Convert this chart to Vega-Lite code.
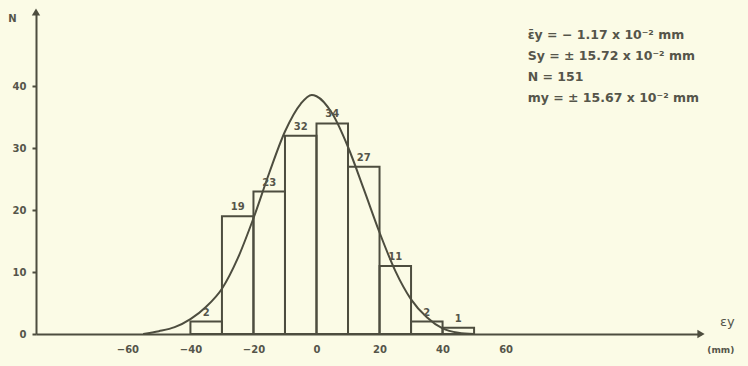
{
  "$schema": "https://vega.github.io/schema/vega-lite/v6.json",
  "width": 665,
  "height": 322,
  "autosize": "none",
  "padding": {"left": 36, "top": 12, "right": 47, "bottom": 32},
  "background": "#fbfbe6",
  "config": {
    "view": {"stroke": null},
    "font": "DejaVu Sans",
    "axis": {
      "domainColor": "#4d4d3f",
      "domainWidth": 2,
      "tickColor": "#4d4d3f",
      "tickWidth": 2,
      "labelColor": "#55554a",
      "labelFont": "DejaVu Sans",
      "labelFontSize": 10,
      "labelFontWeight": "bold",
      "grid": false
    }
  },
  "datasets": {
    "bins": [
      {"start": -40, "end": -30, "mid": -35, "n": 2},
      {"start": -30, "end": -20, "mid": -25, "n": 19},
      {"start": -20, "end": -10, "mid": -15, "n": 23},
      {"start": -10, "end": 0, "mid": -5, "n": 32},
      {"start": 0, "end": 10, "mid": 5, "n": 34},
      {"start": 10, "end": 20, "mid": 15, "n": 27},
      {"start": 20, "end": 30, "mid": 25, "n": 11},
      {"start": 30, "end": 40, "mid": 35, "n": 2},
      {"start": 40, "end": 50, "mid": 45, "n": 1}
    ],
    "curve": [
      {"e": -55, "n": 0.0},
      {"e": -50, "n": 0.45},
      {"e": -45, "n": 1.1},
      {"e": -40, "n": 2.4},
      {"e": -35, "n": 4.4},
      {"e": -30, "n": 7.3},
      {"e": -25, "n": 12.2},
      {"e": -20, "n": 18.69},
      {"e": -15, "n": 26.0},
      {"e": -10, "n": 32.7},
      {"e": -5, "n": 37.18},
      {"e": -1.5, "n": 38.6},
      {"e": 0, "n": 38.4},
      {"e": 5, "n": 35.6},
      {"e": 10, "n": 30.2},
      {"e": 15, "n": 23.4},
      {"e": 20, "n": 16.4},
      {"e": 25, "n": 10.2},
      {"e": 30, "n": 5.6},
      {"e": 35, "n": 2.7},
      {"e": 40, "n": 0.9},
      {"e": 45, "n": 0.2},
      {"e": 50, "n": 0.0}
    ]
  },
  "layer": [
    {
      "data": {"name": "bins"},
      "mark": {"type": "rect", "fill": null, "stroke": "#4d4d3f", "strokeWidth": 2},
      "encoding": {
        "x": {
          "field": "start",
          "type": "quantitative",
          "scale": {"domain": [-89, 122], "nice": false, "zero": false},
          "axis": {
            "values": [-60, -40, -20, 0, 20, 40, 60],
            "ticks": false,
            "labelPadding": 10,
            "title": null
          }
        },
        "x2": {"field": "end"},
        "y": {
          "field": "n",
          "type": "quantitative",
          "scale": {"domain": [0, 52], "nice": false},
          "axis": {
            "values": [0, 10, 20, 30, 40],
            "tickSize": 4,
            "labelPadding": 6,
            "title": "N",
            "titleAngle": 0,
            "titleX": -24,
            "titleY": 11,
            "titleFontSize": 10,
            "titleFontWeight": "bold",
            "titleColor": "#55554a"
          }
        },
        "y2": {"datum": 0}
      }
    },
    {
      "data": {"name": "curve"},
      "mark": {"type": "line", "interpolate": "monotone", "stroke": "#4d4d3f", "strokeWidth": 2},
      "encoding": {
        "x": {"field": "e", "type": "quantitative"},
        "y": {"field": "n", "type": "quantitative"}
      }
    },
    {
      "data": {"name": "bins"},
      "mark": {"type": "text", "dy": -9, "fontSize": 10, "fontWeight": "bold", "color": "#55554a"},
      "encoding": {
        "x": {"field": "mid", "type": "quantitative"},
        "y": {"field": "n", "type": "quantitative"},
        "text": {"field": "n", "type": "quantitative"}
      }
    },
    {
      "data": {"values": [{}]},
      "mark": {"type": "point", "shape": "triangle-up", "filled": true, "size": 70, "color": "#4d4d3f", "opacity": 1},
      "encoding": {"x": {"datum": -89}, "y": {"datum": 52}}
    },
    {
      "data": {"values": [{}]},
      "mark": {"type": "point", "shape": "triangle-right", "filled": true, "size": 70, "color": "#4d4d3f", "opacity": 1},
      "encoding": {"x": {"datum": 122}, "y": {"datum": 0}}
    },
    {
      "data": {"values": [{}]},
      "mark": {"type": "text", "text": "εy", "align": "left", "fontSize": 13, "color": "#55554a", "clip": false},
      "encoding": {"x": {"datum": 128}, "y": {"datum": 2.0}}
    },
    {
      "data": {"values": [{}]},
      "mark": {"type": "text", "text": "(mm)", "align": "left", "fontSize": 9, "fontWeight": "bold", "color": "#55554a", "clip": false},
      "encoding": {"x": {"datum": 124}, "y": {"datum": -2.6}}
    },
    {
      "data": {"values": [{}]},
      "mark": {
        "type": "text",
        "text": ["ε̄y = − 1.17 x 10⁻² mm", "Sy = ± 15.72 x 10⁻² mm", "N = 151", "my = ± 15.67 x 10⁻² mm"],
        "align": "left",
        "baseline": "top",
        "lineHeight": 21,
        "fontSize": 12.5,
        "fontWeight": "bold",
        "color": "#55554a"
      },
      "encoding": {"x": {"datum": 67}, "y": {"datum": 49.2}}
    }
  ]
}
